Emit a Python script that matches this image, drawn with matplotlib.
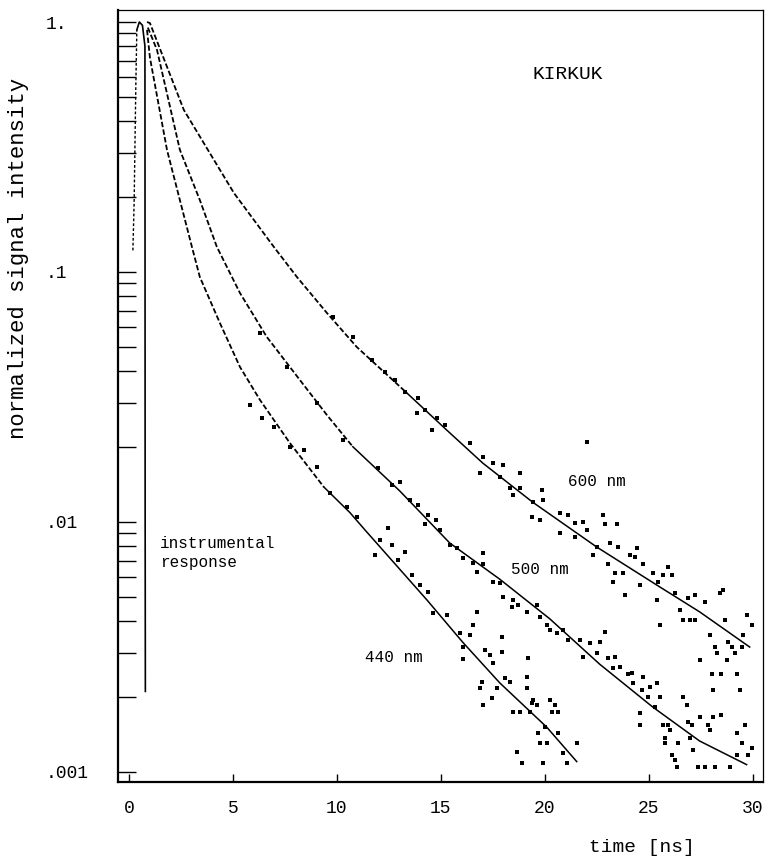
import numpy as np
import matplotlib
matplotlib.use('Agg')
import matplotlib.pyplot as plt
from matplotlib.ticker import FixedLocator, LogLocator, NullFormatter

plt.rcParams['font.family'] = ['Liberation Mono', 'DejaVu Sans Mono']

# fitted decay curves (time in ns, normalized intensity)
t_600 = [0.87, 1.01, 2.64, 3.89, 5.05, 6.97, 8.08, 9.52, 10.96, 13.37, 15.29, 17.02, 19.42, 22.5, 25.53, 27.45, 29.86]
v_600 = [1.0, 0.99, 0.445, 0.299, 0.207, 0.126, 0.0955, 0.0686, 0.0501, 0.0328, 0.0233, 0.0172, 0.0120, 0.00794, 0.0055, 0.00437, 0.00316]

t_500 = [0.91, 1.35, 2.45, 3.41, 4.23, 5.34, 6.63, 8.22, 9.52, 10.77, 13.03, 15.43, 17.84, 20.24, 22.64, 25.19, 27.45, 29.71]
v_500 = [0.95, 0.773, 0.308, 0.194, 0.126, 0.0824, 0.055, 0.037, 0.0268, 0.020, 0.0133, 0.00824, 0.0059, 0.0041, 0.0027, 0.00182, 0.00133, 0.00107]

t_440 = [0.87, 1.01, 1.83, 2.45, 3.03, 3.41, 4.375, 5.34, 6.3, 7.74, 9.375, 10.63, 11.35, 14.33, 16.06, 17.84, 20.1, 21.54]
v_440 = [0.93, 0.72, 0.308, 0.194, 0.126, 0.0955, 0.0625, 0.0417, 0.0308, 0.0207, 0.0138, 0.0109, 0.0093, 0.00488, 0.0033, 0.00227, 0.00151, 0.0011]

# instrumental response pulse
t_instr = [0.19, 0.25, 0.33, 0.38, 0.5, 0.65, 0.77, 0.78, 0.79]
v_instr = [0.122, 0.19, 0.55, 0.93, 1.0, 0.97, 0.8, 0.01, 0.0021]

# measured points scattered around the fits
pts_600_t = [11.68, 12.31, 12.79, 13.27, 13.89, 14.23, 14.81, 15.19, 14.57, 9.81, 10.77, 13.85,
             16.39, 17.02, 17.5, 17.98, 16.88, 17.84, 18.8, 18.32, 18.8, 18.46, 19.86, 19.42, 19.9,
             19.38, 19.76, 20.72, 21.11, 21.44, 21.83, 20.72, 21.44, 22.02, 22.79, 22.88, 23.46,
             23.13, 23.51, 22.5, 22.31, 24.42, 22.02,
             24.09, 24.33, 23.03, 23.37, 23.75, 23.27, 24.71, 25.19, 25.67, 26.11, 25.91, 24.57,
             25.43, 23.85, 25.38, 26.25, 26.49, 26.88, 27.21, 27.69, 28.41, 28.56, 26.63, 26.97,
             27.21, 25.53, 28.65, 29.71, 29.95, 27.93, 28.17, 28.8, 28.99, 29.52, 28.27, 28.75,
             27.45, 29.13, 29.47]
pts_600_v = [0.0445, 0.0398, 0.037, 0.0331, 0.0313, 0.028, 0.0261, 0.0244, 0.0233, 0.0661, 0.055, 0.0273,
             0.0207, 0.0182, 0.0172, 0.0169, 0.0157, 0.0151, 0.0157, 0.0137, 0.0137, 0.0128, 0.0134, 0.0120, 0.0122,
             0.0105, 0.0102, 0.0109, 0.0107, 0.0099, 0.0100, 0.00903, 0.00871, 0.00929, 0.0107, 0.00977, 0.00977,
             0.00824, 0.00794, 0.00794, 0.00738, 0.00787, 0.0209,
             0.00738, 0.00724, 0.00676, 0.00626, 0.00626, 0.00575, 0.00676, 0.00626, 0.00613, 0.00613, 0.00661, 0.0056,
             0.00575, 0.00511, 0.00488, 0.0052, 0.00445, 0.00498, 0.00511, 0.00479, 0.0052, 0.00535, 0.00406, 0.00406,
             0.00406, 0.00387, 0.00406, 0.00424, 0.00387, 0.00353, 0.00316, 0.00331, 0.00316, 0.00353, 0.00299, 0.0028,
             0.0028, 0.00299, 0.00316]

pts_500_t = [6.3, 7.6, 9.04, 10.29, 11.97, 12.64, 13.03, 13.51, 13.89, 14.38, 14.76, 14.95, 14.23,
             15.43, 15.77, 16.06, 16.54, 17.02, 17.02, 16.73, 17.5, 17.84, 17.98, 18.46, 18.7, 18.41,
             19.13, 19.62, 19.76, 20.1, 20.24, 20.58, 20.87, 21.11, 21.68, 22.16, 22.5, 21.83,
             22.88, 22.64, 23.03, 23.37, 23.27, 23.61, 23.99, 24.18, 24.71, 24.23, 24.66, 25.05, 25.38,
             24.95, 25.53, 25.29, 26.63, 26.83, 28.03, 28.46, 29.23, 28.08, 29.38, 28.46, 28.08, 27.45,
             24.57, 24.57, 25.67, 25.91, 26.01, 26.88, 27.07, 27.84, 27.93, 29.62, 29.23, 25.77, 25.77,
             26.39, 26.97, 27.12, 29.47, 29.95, 29.23, 29.76, 26.11, 26.25, 26.35, 27.36, 27.69, 28.17, 28.89]
pts_500_v = [0.057, 0.0417, 0.0299, 0.0213, 0.0164, 0.0141, 0.0145, 0.0122, 0.0117, 0.0107, 0.0102, 0.00929, 0.00977,
             0.00809, 0.00787, 0.00718, 0.00685, 0.00752, 0.00676, 0.00631, 0.00575, 0.0057, 0.00501, 0.00488, 0.00466, 0.00457,
             0.00437, 0.00466, 0.00417, 0.00387, 0.0037, 0.0036, 0.0037, 0.00337, 0.00337, 0.00328, 0.00299, 0.00288,
             0.00363, 0.00331, 0.00286, 0.00288, 0.00261, 0.00263, 0.00247, 0.00249, 0.0024, 0.00227, 0.00213, 0.00219, 0.00227,
             0.002, 0.002, 0.00182, 0.002, 0.00185, 0.00247, 0.00247, 0.00247, 0.00213, 0.00213, 0.00169, 0.00166, 0.00166,
             0.00172, 0.00154, 0.00154, 0.00154, 0.00147, 0.00158, 0.00154, 0.00154, 0.00147, 0.00154, 0.00143, 0.00137, 0.00131,
             0.00131, 0.00137, 0.00122, 0.00131, 0.00125, 0.00117, 0.00117, 0.00117, 0.00112, 0.00105, 0.00105, 0.00105, 0.00105, 0.00105]

pts_440_t = [5.82, 6.39, 6.97, 7.74, 8.41, 9.04, 9.66, 10.48, 10.96,
             12.07, 12.64, 12.93, 13.27, 13.61, 13.99, 12.45, 14.38, 11.83,
             14.62, 15.29, 16.73, 16.54, 15.91, 16.39, 16.06, 16.06, 17.93, 17.12, 17.36, 17.5, 17.93,
             19.18, 16.97, 16.88, 17.45, 17.02, 17.69, 18.08, 18.32, 19.13, 19.13, 19.42, 19.38, 19.62,
             18.46, 18.8, 19.28, 20.24, 20.48, 20.34, 20.63, 19.66, 20.0, 20.63, 19.76, 20.1, 21.54,
             18.65, 18.89, 19.9, 20.87, 21.06]
pts_440_v = [0.0294, 0.0261, 0.024, 0.02, 0.0194, 0.0166, 0.0131, 0.0115, 0.0105,
             0.00847, 0.00809, 0.00705, 0.00759, 0.00613, 0.0056, 0.00946, 0.00525, 0.00738,
             0.00433, 0.00424, 0.00437, 0.00387, 0.0036, 0.00353, 0.00316, 0.00283, 0.00347, 0.00308, 0.00294, 0.00273, 0.00302,
             0.00286, 0.00229, 0.00217, 0.00198, 0.00185, 0.00217, 0.00238, 0.00229, 0.0024, 0.00217, 0.00194, 0.00189, 0.00185,
             0.00174, 0.00174, 0.00174, 0.00194, 0.00185, 0.00174, 0.00174, 0.00143, 0.00151, 0.00143, 0.00131, 0.00131, 0.00131,
             0.0012, 0.00109, 0.00109, 0.00119, 0.00109]

# index where fits switch from dotted-looking data to clean solid line
split_600, split_500, split_440 = 9, 9, 10

y_ticks = [1.0, 0.1, 0.01, 0.001]
y_ticklabels = ['1.', '.1', '.01', '.001']
x_ticks = [0, 5, 10, 15, 20, 25, 30]

fig = plt.figure(figsize=(7.66, 8.61), dpi=100)
ax = fig.add_axes([0.1534, 0.0918, 0.8427, 0.8966])

for t, v, k in [(t_600, v_600, split_600), (t_500, v_500, split_500), (t_440, v_440, split_440)]:
    ax.plot(t[:k + 1], v[:k + 1], color='black', lw=1.3, ls=(0, (3, 1.3)))
    ax.plot(t[k:], v[k:], color='black', lw=1.1)

ax.plot(t_instr[:4], v_instr[:4], color='black', lw=1.0, ls=(0, (2, 1.5)))
ax.plot(t_instr[3:], v_instr[3:], color='black', lw=1.2)

for tt, vv in [(pts_600_t, pts_600_v), (pts_500_t, pts_500_v), (pts_440_t, pts_440_v)]:
    ax.plot(tt, vv, ls='none', marker='s', ms=2.2, color='black', mew=0)

ax.set_yscale('log')
ax.set_xlim(-0.55, 30.5)
ax.set_ylim(0.000912, 1.117)

ax.yaxis.set_major_locator(FixedLocator(y_ticks))
ax.set_yticklabels(y_ticklabels)
ax.yaxis.set_minor_locator(LogLocator(base=10, subs=np.arange(2, 10)))
ax.yaxis.set_minor_formatter(NullFormatter())
ax.tick_params(axis='y', which='both', direction='in', length=13, width=1.0, pad=52, labelsize=13)
for lab in ax.get_yticklabels():
    lab.set_horizontalalignment('left')

ax.set_xticks(x_ticks)
ax.tick_params(axis='x', which='major', direction='in', length=6, width=1.0, pad=13, labelsize=13)

for side in ['left', 'bottom']:
    ax.spines[side].set_linewidth(1.6)
for side in ['top', 'right']:
    ax.spines[side].set_linewidth(0.9)

ax.text(19.42, 0.614, 'KIRKUK', fontsize=14, ha='left', va='center')
ax.text(21.1, 0.0145, '600 nm', fontsize=11.5, ha='left', va='center')
ax.text(18.4, 0.00643, '500 nm', fontsize=11.5, ha='left', va='center')
ax.text(11.35, 0.00286, '440 nm', fontsize=11.5, ha='left', va='center')
ax.text(1.5, 0.0075, 'instrumental\nresponse', fontsize=11.5, ha='left', va='center', linespacing=1.3)

fig.text(0.0235, 0.700, 'normalized signal intensity', rotation=90, fontsize=16,
         ha='center', va='center')
fig.text(0.838, 0.016, 'time [ns]', fontsize=14, ha='center', va='center')

fig.savefig('out.png', dpi=100)
